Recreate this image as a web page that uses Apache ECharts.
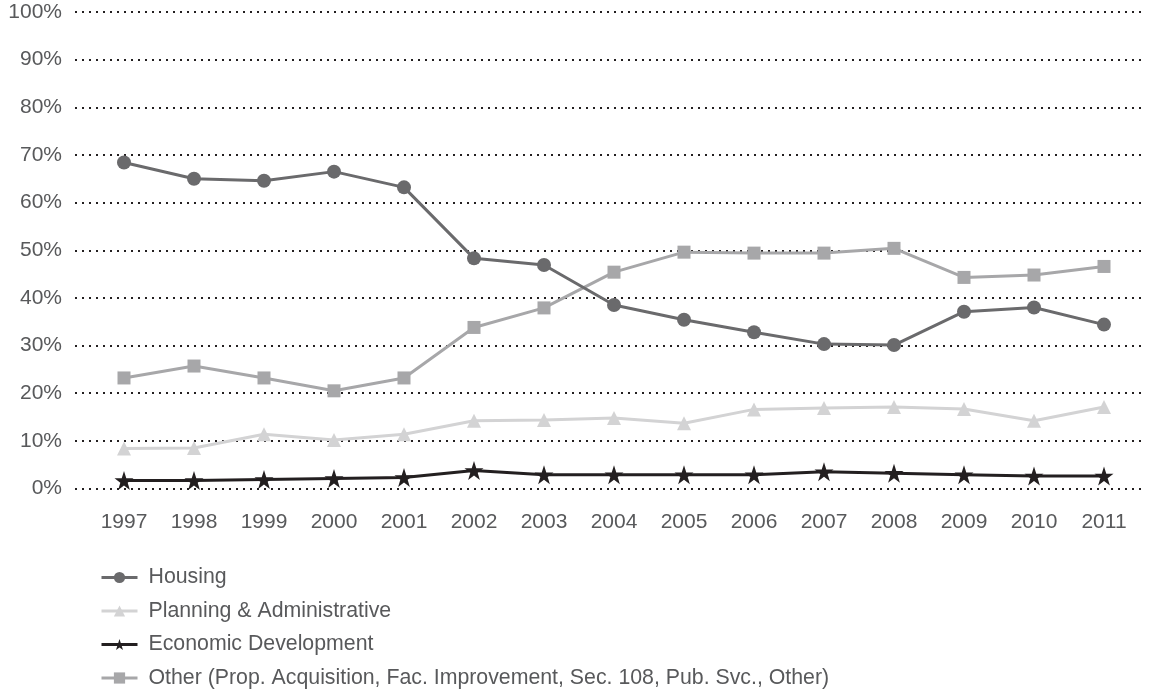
<!DOCTYPE html>
<html>
<head>
<meta charset="utf-8">
<script src="https://cdn.jsdelivr.net/npm/echarts@6/dist/echarts.min.js"></script>
<style>
  html, body { margin: 0; padding: 0; background: #ffffff; }
  #chart { width: 1149px; height: 690px; }
</style>
</head>
<body>
<div id="chart"></div>
<script>
// Share of funds by activity type, 1997–2011 (percent)
const years = ['1997','1998','1999','2000','2001','2002','2003','2004','2005','2006','2007','2008','2009','2010','2011'];
const housing = [68.4, 65.0, 64.6, 66.5, 63.2, 48.3, 46.9, 38.5, 35.4, 32.8, 30.3, 30.1, 37.1, 38.0, 34.4];
const planning = [8.4, 8.5, 11.4, 10.2, 11.4, 14.2, 14.4, 14.8, 13.7, 16.6, 16.9, 17.1, 16.7, 14.2, 17.1];
const economic = [1.7, 1.7, 1.9, 2.1, 2.3, 3.8, 2.9, 2.9, 2.9, 2.9, 3.5, 3.2, 2.9, 2.6, 2.6];
const other = [23.2, 25.7, 23.2, 20.5, 23.2, 33.8, 37.9, 45.4, 49.6, 49.4, 49.4, 50.4, 44.3, 44.8, 46.6];
const seriesNames = [
  'Housing',
  'Planning & Administrative',
  'Economic Development',
  'Other (Prop. Acquisition, Fac. Improvement, Sec. 108, Pub. Svc., Other)'
];

const FONT = '"Liberation Sans", Arial, sans-serif';
const TEXT = '#58595b';
const STAR = 'path://M50,0 L61.8,35.1 L98.9,35.1 L68.9,56.8 L80.3,91.9 L50,70.2 L19.7,91.9 L31.1,56.8 L1.1,35.1 L38.2,35.1 Z';

const chart = echarts.init(document.getElementById('chart'), null, { renderer: 'canvas' });

function lineSeries(name, data, color, symbol, size, z) {
  return {
    name: name,
    type: 'line',
    xAxisIndex: 0,
    yAxisIndex: 0,
    data: data,
    symbol: symbol,
    symbolSize: size,
    showSymbol: true,
    z: z,
    lineStyle: { color: color, width: 3 },
    itemStyle: { color: color, borderWidth: 0 },
    emphasis: { disabled: true }
  };
}

chart.setOption({
  animation: false,
  backgroundColor: '#ffffff',
  textStyle: { fontFamily: FONT },
  grid: [
    // plotting area
    { left: 89, right: 10, top: 12, bottom: 201.5, containLabel: false },
    // wider band carrying the dotted guide lines
    { left: 75, right: 5, top: 12, bottom: 201.5, containLabel: false }
  ],
  xAxis: [
    {
      type: 'category',
      gridIndex: 0,
      data: years,
      boundaryGap: true,
      axisLine: { show: false },
      axisTick: { show: false },
      axisLabel: { color: TEXT, fontSize: 21, fontFamily: FONT, margin: 23 }
    },
    {
      type: 'value',
      gridIndex: 1,
      show: false,
      min: 0,
      max: 1
    }
  ],
  yAxis: [
    {
      type: 'value',
      gridIndex: 0,
      min: 0,
      max: 100,
      interval: 10,
      axisLine: { show: false },
      axisTick: { show: false },
      splitLine: { show: false },
      axisLabel: {
        color: TEXT, fontSize: 21, fontFamily: FONT, margin: 27,
        formatter: function (v) { return v + '%'; }
      }
    },
    {
      type: 'value',
      gridIndex: 1,
      min: 0,
      max: 100,
      interval: 10,
      axisLine: { show: false },
      axisTick: { show: false },
      axisLabel: { show: false },
      splitLine: {
        show: true,
        lineStyle: { color: '#231f20', width: 2, type: [2, 5] }
      }
    }
  ],
  legend: {
    orient: 'vertical',
    left: 100,
    top: 567,
    height: 160,
    padding: 0,
    itemWidth: 36,
    itemHeight: 14,
    itemGap: 12.5,
    lineStyle: { width: 3 },
    textStyle: { color: TEXT, fontSize: 21.3, fontFamily: FONT, lineHeight: 21, padding: [0, 0, 0, 6] },
    data: seriesNames,
    selectedMode: false
  },
  series: [
    lineSeries(seriesNames[3], other, '#a7a7a9', 'rect', 13, 2),
    lineSeries(seriesNames[0], housing, '#6a6a6c', 'circle', 14, 3),
    lineSeries(seriesNames[1], planning, '#d3d3d4', 'triangle', 14, 2),
    lineSeries(seriesNames[2], economic, '#231f20', STAR, 19, 4)
  ]
});
</script>
</body>
</html>
